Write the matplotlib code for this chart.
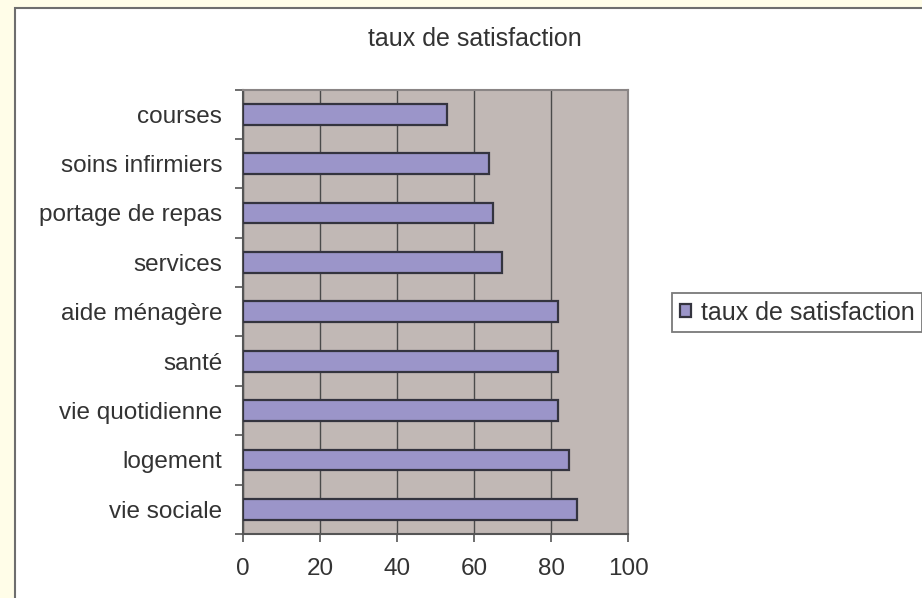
"""Taux de satisfaction - diagramme en barres horizontales"""

import matplotlib
matplotlib.use('Agg')
import matplotlib.pyplot as plt
from matplotlib.patches import Rectangle
import numpy as np

plt.rcParams['font.family'] = ['Liberation Sans', 'DejaVu Sans']

# Catégories (de bas en haut) et valeurs
categories = ['vie sociale', 'logement', 'vie quotidienne', 'santé', 'aide ménagère',
              'services', 'portage de repas', 'soins infirmiers', 'courses']
taux = [86.8, 84.7, 81.8, 81.8, 81.8, 67.4, 65.0, 63.9, 53.0]
graduations_x = [0, 20, 40, 60, 80, 100]

W, H = 922, 598
fig = plt.figure(figsize=(W / 100, H / 100), dpi=100)
fig.patch.set_facecolor('#FFFDE8')

# panneau blanc (zone du graphique)
panneau = Rectangle((15 / W, -0.1), 1.2, 1 - 8 / H + 0.1, transform=fig.transFigure,
                    facecolor='white', edgecolor='#6e6e6e', linewidth=1.5, zorder=-1)
fig.add_artist(panneau)

ax = fig.add_axes([243 / W, 1 - 534 / H, (628 - 243) / W, (534 - 89.5) / H])
ax.set_facecolor('#C1B8B5')

y = np.arange(len(categories))
ax.barh(y, taux, height=0.42, color='#9B95C9', edgecolor='#34343f', linewidth=1.6,
        label='taux de satisfaction', zorder=3)

ax.set_xlim(0, 100)
ax.set_ylim(-0.5, len(categories) - 0.5)
ax.set_xticks(graduations_x)
ax.xaxis.grid(True, color='#4a4a4a', linewidth=1.0, zorder=1)
ax.set_axisbelow(True)

ax.set_yticks(y)
ax.set_yticklabels(categories)
ax.set_yticks(np.arange(len(categories) + 1) - 0.5, minor=True)
ax.tick_params(axis='y', which='major', length=0, pad=15, labelsize=17.5, labelcolor='#333333')
ax.tick_params(axis='y', which='minor', length=6, width=1.2, color='#555555')
ax.tick_params(axis='x', length=6, width=1.2, color='#555555', pad=11,
               labelsize=17.5, labelcolor='#333333')

for cote in ['top', 'right']:
    ax.spines[cote].set_color('#8a8585')
    ax.spines[cote].set_linewidth(1.5)
for cote in ['left', 'bottom']:
    ax.spines[cote].set_color('#555555')
    ax.spines[cote].set_linewidth(1.5)

fig.text(474.5 / W, 1 - 46 / H, 'taux de satisfaction', ha='center', va='baseline',
         fontsize=18, color='#333333')

leg = fig.legend(loc='upper left', bbox_to_anchor=(672 / W, 1 - 293 / H), borderaxespad=0,
                 fontsize=18, handlelength=0.45, handleheight=0.45, handletextpad=0.4,
                 borderpad=0.3, fancybox=False, framealpha=1, edgecolor='#7a7a7a')
leg.get_frame().set_linewidth(1.3)
for t in leg.get_texts():
    t.set_color('#333333')

fig.savefig('out.png', dpi=100, facecolor=fig.get_facecolor())
